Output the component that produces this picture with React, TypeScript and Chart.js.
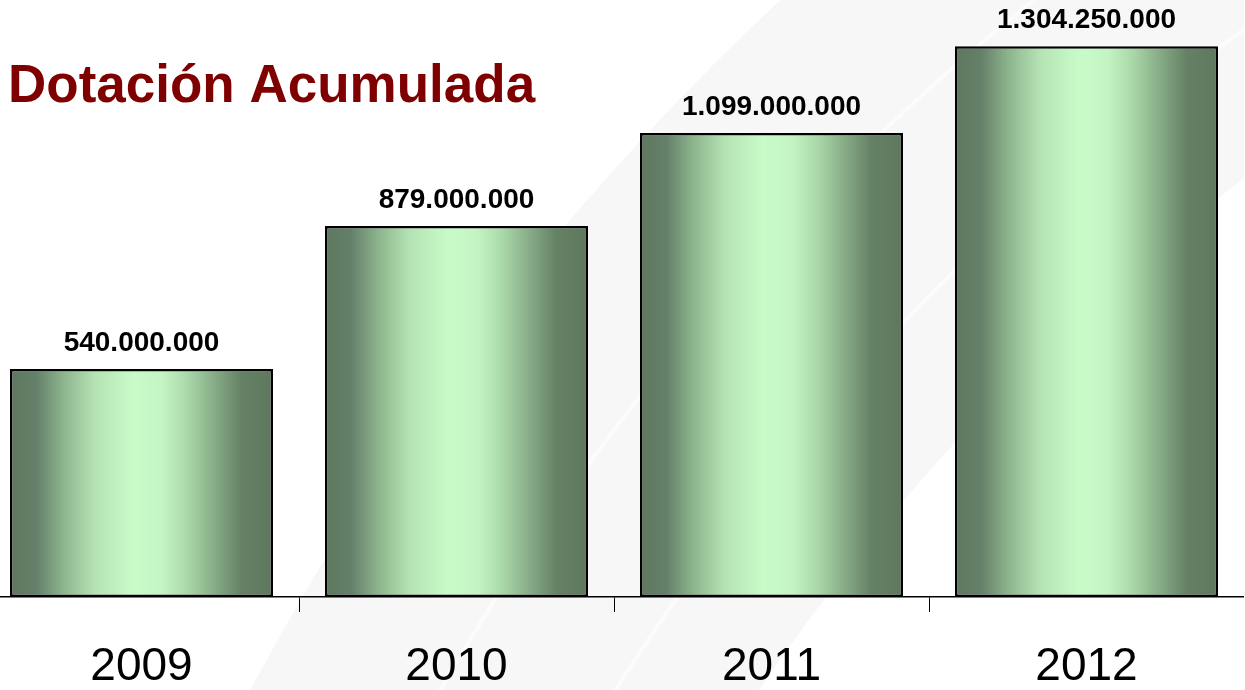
import React, { useEffect, useRef } from "react";
import { Chart, registerables } from "chart.js";

Chart.register(...registerables);

const categories: string[] = ["2009", "2010", "2011", "2012"];
const dotacion: number[] = [540000000, 879000000, 1099000000, 1304250000];
const titleText = "Dotación Acumulada";
const yMax = 1414000000;

const CANVAS_W = 1260;
const CANVAS_H = 690;
const OFFSET_X = 16; // canvas is shifted left so the first category starts off-page
const FONT = "'Liberation Sans', Arial, Helvetica, sans-serif";

const fmt = (n: number) => String(n).replace(/\B(?=(\d{3})+(?!\d))/g, ".");

const backgroundPlugin = {
  id: "bgSwoosh",
  beforeDraw(chart: any) {
    const ctx = chart.ctx as CanvasRenderingContext2D;
    ctx.save();
    ctx.fillStyle = "#ffffff";
    ctx.fillRect(0, 0, chart.width, chart.height);
    const cx = 2585 + OFFSET_X;
    const cy = 1935;
    ctx.beginPath();
    ctx.arc(cx, cy, 2646, 0, Math.PI * 2);
    ctx.arc(cx, cy, 2210, 0, Math.PI * 2, true);
    ctx.fillStyle = "#f7f7f7";
    ctx.fill("evenodd");
    ctx.strokeStyle = "rgba(255,255,255,0.6)";
    ctx.lineWidth = 4;
    [2330, 2480].forEach((r) => {
      ctx.beginPath();
      ctx.arc(cx, cy, r, 0, Math.PI * 2);
      ctx.stroke();
    });
    ctx.restore();
  },
};

const labelsPlugin = {
  id: "valueLabels",
  afterDatasetsDraw(chart: any) {
    const ctx = chart.ctx as CanvasRenderingContext2D;
    const meta = chart.getDatasetMeta(0);
    ctx.save();
    ctx.fillStyle = "#000000";
    ctx.font = `bold 28px ${FONT}`;
    ctx.textAlign = "center";
    ctx.textBaseline = "alphabetic";
    meta.data.forEach((bar: any, i: number) => {
      ctx.fillText(fmt(dotacion[i]), bar.x, bar.y - 18);
    });
    // title
    ctx.fillStyle = "#7f0000";
    ctx.font = `bold 53px ${FONT}`;
    ctx.textAlign = "left";
    ctx.fillText(titleText, 8 + OFFSET_X, 102);
    ctx.restore();
  },
};

function barGradient(context: any) {
  const chart = context.chart;
  const xScale = chart.scales?.x;
  if (!xScale || !chart.chartArea) return "#9fcf9f";
  const center = xScale.getPixelForValue(context.dataIndex);
  const w = (xScale.width / categories.length) * 0.835;
  const g = chart.ctx.createLinearGradient(center - w / 2, 0, center + w / 2, 0);
  g.addColorStop(0.0, "#5e785e");
  g.addColorStop(0.1, "#64806a");
  g.addColorStop(0.2, "#8cb38c");
  g.addColorStop(0.32, "#b4e2b4");
  g.addColorStop(0.47, "#c9fbc9");
  g.addColorStop(0.58, "#c4f4c4");
  g.addColorStop(0.68, "#a8d6a8");
  g.addColorStop(0.78, "#86ab86");
  g.addColorStop(0.88, "#658165");
  g.addColorStop(1.0, "#5e785e");
  return g;
}

export default function App() {
  const canvasRef = useRef<HTMLCanvasElement | null>(null);

  useEffect(() => {
    if (!canvasRef.current) return;
    const chart = new Chart(canvasRef.current, {
      type: "bar",
      data: {
        labels: categories,
        datasets: [
          {
            data: dotacion,
            backgroundColor: barGradient,
            borderColor: "#000000",
            borderWidth: 2.5,
            borderSkipped: false,
            barPercentage: 0.835,
            categoryPercentage: 1,
          },
        ],
      },
      options: {
        responsive: false,
        animation: false,
        devicePixelRatio: 1,
        layout: { padding: 0 },
        plugins: {
          legend: { display: false },
          tooltip: { enabled: false },
          title: { display: false },
        },
        scales: {
          x: {
            offset: true,
            grid: {
              display: true,
              offset: true,
              drawOnChartArea: false,
              drawTicks: true,
              tickLength: 15,
              color: "#000000",
              lineWidth: 1,
            },
            border: { display: true, color: "#000000", width: 1.5 },
            ticks: {
              color: "#000000",
              font: { family: FONT, size: 46, weight: "normal" },
              padding: 28,
              maxRotation: 0,
            },
            afterFit(scale: any) {
              scale.height = 93;
            },
          },
          y: {
            display: false,
            min: 0,
            max: yMax,
          },
        },
      },
      plugins: [backgroundPlugin, labelsPlugin],
    });
    return () => chart.destroy();
  }, []);

  return (
    <div
      style={{
        position: "absolute",
        left: 0,
        top: 0,
        width: 1245,
        height: 690,
        overflow: "hidden",
        background: "#ffffff",
      }}
    >
      <canvas
        ref={canvasRef}
        width={CANVAS_W}
        height={CANVAS_H}
        style={{ position: "absolute", left: -OFFSET_X, top: 0, width: CANVAS_W, height: CANVAS_H }}
      />
    </div>
  );
}
